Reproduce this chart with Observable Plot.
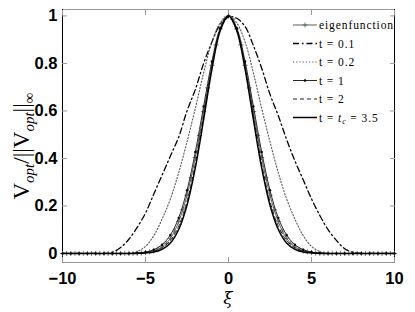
<!DOCTYPE html>
<html><head><meta charset="utf-8">
<script src="https://cdn.jsdelivr.net/npm/d3@7"></script>
<script src="https://cdn.jsdelivr.net/npm/@observablehq/plot@0.6"></script>
<style>body{margin:0;background:#fff} #chart{width:415px;height:312px}</style>
</head><body><div id="chart"></div>
<script>
// ---- data ----
const xiCoarse = d3.range(-10, 10.001, 0.5);   // 41 sample points
const xiFine = d3.range(-10, 10.001, 0.25);    // 81 sample points (eigenfunction)

const eigenfunction = [
  0,0,0,0,0,0,0,0,0,0,0,0,0,0,0,0,0,0,
  0.001,0.002,0.004,0.007,0.011,0.018,0.028,0.043,0.064,0.094,0.134,0.184,0.245,0.319,0.404,0.497,0.597,0.697,0.792,0.878,0.945,0.987,
  1,
  0.987,0.945,0.878,0.792,0.697,0.597,0.497,0.404,0.319,0.245,0.184,0.134,0.094,0.064,0.043,0.028,0.018,0.011,0.007,0.004,0.002,0.001,
  0,0,0,0,0,0,0,0,0,0,0,0,0,0,0,0,0,0
];
const t01 = [
  0,0,0,0,0,0,
  0.005,0.025,0.06,0.11,0.17,0.25,0.33,0.41,0.49,0.60,0.69,0.80,0.89,0.965,0.995,
  0.99,0.955,0.875,0.78,0.67,0.58,0.48,0.39,0.31,0.23,0.16,0.10,0.055,0.02,0.005,
  0,0,0,0,0
];
const t02 = [
  0,0,0,0,0,0,0,0,0,
  0.008,0.03,0.075,0.145,0.23,0.34,0.47,0.61,0.76,0.89,0.97,
  1,
  0.97,0.89,0.76,0.61,0.47,0.34,0.23,0.145,0.075,0.03,0.008,
  0,0,0,0,0,0,0,0,0
];
const t1 = [
  0,0,0,0,0,0,0,0,0,
  0.002,0.006,0.016,0.037,0.078,0.150,0.266,0.427,0.619,0.808,0.948,
  1,
  0.948,0.808,0.619,0.427,0.266,0.150,0.078,0.037,0.016,0.006,0.002,
  0,0,0,0,0,0,0,0,0
];
const t2 = [
  0,0,0,0,0,0,0,0,0,
  0.001,0.003,0.009,0.024,0.055,0.115,0.220,0.377,0.578,0.784,0.941,
  1,
  0.941,0.784,0.578,0.377,0.220,0.115,0.055,0.024,0.009,0.003,0.001,
  0,0,0,0,0,0,0,0,0
];
const tc = [
  0,0,0,0,0,0,0,0,0,0,
  0.002,0.006,0.017,0.044,0.101,0.203,0.360,0.563,0.775,0.938,
  1,
  0.938,0.775,0.563,0.360,0.203,0.101,0.044,0.017,0.006,0.002,
  0,0,0,0,0,0,0,0,0,0
];
const seriesLabels = ["eigenfunction", "t = 0.1", "t = 0.2", "t = 1", "t = 2", "t = tc = 3.5"];
const xTicks = [-10, -5, 0, 5, 10];
const yTicks = [0, 0.2, 0.4, 0.6, 0.8, 1];
const xDomain = [-10, 10];
const yDomain = [-0.038, 1.027];

// ---- styles ----
const styles = [
  {stroke: "#333", strokeWidth: 0.8, dash: null, marker: "plus"},
  {stroke: "#000", strokeWidth: 1.3, dash: "6,3,1.5,3", marker: null},
  {stroke: "#555", strokeWidth: 1.1, dash: "1.2,2", marker: null},
  {stroke: "#111", strokeWidth: 0.9, dash: null, marker: "dot"},
  {stroke: "#222", strokeWidth: 1, dash: "4,3", marker: null},
  {stroke: "#000", strokeWidth: 1.5, dash: null, marker: null}
];

const rows = (xs, vs) => xs.map((x, i) => ({x, y: vs[i]}));
const series = [
  rows(xiFine, eigenfunction),
  rows(xiCoarse, t01),
  rows(xiCoarse, t02),
  rows(xiCoarse, t1),
  rows(xiCoarse, t2),
  rows(xiCoarse, tc)
];

const plusSymbol = {
  draw(ctx, size) {
    const r = Math.sqrt(size / Math.PI);
    ctx.moveTo(-r, 0); ctx.lineTo(r, 0);
    ctx.moveTo(0, -r); ctx.lineTo(0, r);
  }
};

const fmt = d => (d < 0 ? "\u2212" + (-d) : String(d));
const tickFont = {fontFamily: "Liberation Sans, Arial, sans-serif", fontWeight: "bold", fontSize: 16.5, fill: "#000"};

const marks = [
  Plot.frame({stroke: "#999", strokeWidth: 1}),
  Plot.ruleX(xDomain, {stroke: "#000", strokeWidth: 1}),
  Plot.axisX(xTicks, {anchor: "bottom", tickSize: -5, tickPadding: 15, stroke: "#999", tickFormat: fmt, label: null, ...tickFont}),
  Plot.axisX(xTicks, {anchor: "top", tickSize: -5, stroke: "#999", tickFormat: () => "", label: null}),
  Plot.axisY(yTicks, {anchor: "left", tickSize: -5, tickPadding: 10, stroke: "#999", tickFormat: d => String(d), label: null, ...tickFont}),
  Plot.axisY(yTicks, {anchor: "right", tickSize: -5, stroke: "#999", tickFormat: () => "", label: null})
];
series.forEach((data, i) => {
  const s = styles[i];
  marks.push(Plot.line(data, {x: "x", y: "y", stroke: s.stroke, strokeWidth: s.strokeWidth, strokeDasharray: s.dash, curve: "catmull-rom"}));
  if (s.marker === "plus") marks.push(Plot.dot(data, {x: "x", y: "y", symbol: plusSymbol, r: 2.6, stroke: "#555", fill: "none", strokeWidth: 0.8}));
  if (s.marker === "dot") marks.push(Plot.dot(data, {x: "x", y: "y", r: 1.2, fill: "#000", stroke: "none"}));
});

const chart = Plot.plot({
  width: 415, height: 312,
  marginLeft: 62, marginRight: 21, marginTop: 9, marginBottom: 50,
  x: {domain: xDomain},
  y: {domain: yDomain},
  style: {background: "#fff"},
  marks
});
document.getElementById("chart").append(chart);

// ---- labels and legend ----
const svg = d3.select(chart);
const serif = "Liberation Serif, DejaVu Serif, serif";

// y label
const yl = svg.append("text").attr("transform", "translate(29,146) rotate(-90)")
  .attr("text-anchor", "middle").attr("font-family", serif).attr("font-size", 23).attr("fill", "#000");
yl.append("tspan").text("V");
yl.append("tspan").attr("font-style", "italic").attr("font-size", 15).attr("dy", 5).text("opt");
yl.append("tspan").attr("dy", -5).text("/||V");
yl.append("tspan").attr("font-style", "italic").attr("font-size", 15).attr("dy", 5).text("opt");
yl.append("tspan").attr("dy", -5).text("||");
yl.append("tspan").attr("font-size", 15).attr("dy", 5).text("\u221e");

// x label
svg.append("text").attr("x", 228).attr("y", 304).attr("text-anchor", "middle")
  .attr("font-family", "DejaVu Serif, serif").attr("font-style", "italic").attr("font-size", 17).attr("fill", "#000").text("\u03be");

// legend
const lg = svg.append("g").attr("font-family", serif).attr("font-size", 11.5).attr("fill", "#000")
  .attr("letter-spacing", "0.9px").attr("text-anchor", "start");
seriesLabels.forEach((lab, i) => {
  const s = styles[i];
  const y = 25 + i * 18.5;
  lg.append("line").attr("x1", 293).attr("x2", 317).attr("y1", y).attr("y2", y)
    .attr("stroke", s.stroke).attr("stroke-width", s.strokeWidth).attr("stroke-dasharray", s.dash);
  if (s.marker === "plus") lg.append("path").attr("d", `M302.5,${y}h5M305,${y - 2.5}v5`).attr("stroke", "#555").attr("stroke-width", 0.8);
  if (s.marker === "dot") lg.append("circle").attr("cx", 305).attr("cy", y).attr("r", 1.3).attr("fill", "#000");
  const t = lg.append("text").attr("x", 319).attr("y", y + 4).attr("text-anchor", "start");
  if (lab.includes("tc")) {
    t.append("tspan").text("t = ");
    t.append("tspan").attr("font-style", "italic").text("t");
    t.append("tspan").attr("font-style", "italic").attr("font-size", 8).attr("dy", 2).text("c");
    t.append("tspan").attr("dy", -2).text(" = 3.5");
  } else {
    t.text(lab);
  }
});
</script>
</body></html>
